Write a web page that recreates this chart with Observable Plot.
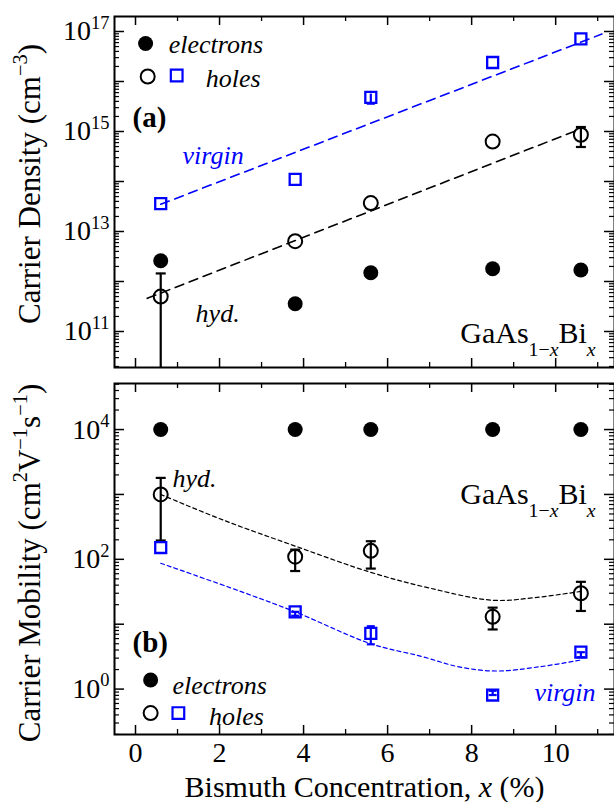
<!DOCTYPE html>
<html><head><meta charset="utf-8">
<script src="https://cdn.jsdelivr.net/npm/d3@7"></script>
<script src="https://cdn.jsdelivr.net/npm/@observablehq/plot@0.6"></script>
<style>
html,body{margin:0;padding:0;background:#fff;}
#chart{width:614px;height:802px;overflow:hidden;font-family:'Liberation Serif';}
#chart svg{display:block;overflow:visible;}
#chart svg, #chart svg text, #chart svg tspan{font-family:'Liberation Serif' !important;}
</style></head><body><div id="chart"></div>
<script>
// ---------- data ----------
const xConc = [0.6, 3.8, 5.6, 8.5, 10.6];              // Bi concentration (%)

// (a) carrier density (cm^-3)
const densElectrons = [2.6e12, 3.6e11, 1.5e12, 1.8e12, 1.7e12];
const densHolesHyd = [5.0e11, 6.4e12, 3.7e13, 6.3e14, 8.6e14];
const densHolesVirgin = [3.6e13, 1.1e14, 4.8e15, 2.4e16, 7.1e16];
const densHydErrX = [0.6, 10.6];
const densHydErrLo = [1e10, 4.9e14];
const densHydErrHi = [1.45e12, 1.23e15];
const densVirErrX = [5.6];
const densVirErrLo = [3.6e15];
const densVirErrHi = [5.6e15];
const densFitHydX = [0.28, 10.5];
const densFitHydY = [4.6e11, 1.05e15];
const densFitVirX = [0.6, 11.1];
const densFitVirY = [3.5e13, 8.9e16];

// (b) carrier mobility (cm^2 V^-1 s^-1)
const mobElectrons = [1e4, 1e4, 1e4, 1e4, 1e4];
const mobHolesHyd = [1000, 110, 135, 13, 30];
const mobHydErrLo = [195, 66, 72, 8.3, 16];
const mobHydErrHi = [1800, 141, 190, 18, 45];
const mobHolesVirgin = [152, 15.5, 7.2, 0.81, 3.7];
const mobVirErrX = [3.8, 5.6, 8.5, 10.6];
const mobVirErrLo = [13.5, 4.9, 0.81, 3.1];
const mobVirErrHi = [15.5, 9.3, 0.94, 3.7];
const mobFitHydX = [0.6, 2.1, 3.8, 5.6, 7.0, 8.5, 9.5, 10.6];
const mobFitHydY = [1000, 400, 160, 63, 36, 23.4, 25.7, 32];
const mobFitVirX = [0.6, 2.5, 3.8, 5.6, 6.8, 7.7, 8.6, 9.6, 10.6];
const mobFitVirY = [87, 32, 15.5, 5.0, 3.2, 2.2, 1.9, 2.2, 2.8];

// ticks
const xMajorTicks = [0, 2, 4, 6, 8, 10];
const xMinorTicks = [1, 3, 5, 7, 9, 11];
const densLabelTicks = [1e11, 1e13, 1e15, 1e17];
const mobLabelTicks = [1e0, 1e2, 1e4];
const densDecades = [10, 11, 12, 13, 14, 15, 16, 17];
const mobDecades = [-1, 0, 1, 2, 3, 4];

// text
const densYLabel = "Carrier Density (cm^{−3})";
const mobYLabel = "Carrier Mobility (cm^{2}V^{−1}s^{−1})";
const xLabel = "Bismuth Concentration, *x* (%)";
const alloyLabel = "GaAs_{1−*x*}Bi_{*x*}";

// ---------- helpers ----------
const BLUE = "#0000ff";
const FONT = "Liberation Serif";
const X_DOMAIN = [-0.5, 11.4];
const WIDTH = 614, ML = 114, MR = 0;
const FRAME_W = WIDTH - ML - MR;

const zip = (xs, ys) => xs.map((x, i) => ({x, y: ys[i]}));
const zip3 = (xs, lo, hi) => xs.map((x, i) => ({x, lo: lo[i], hi: hi[i]}));
const decadeTicks = (decs, domain) => {
  const major = [], minor = [];
  for (const d of decs) {
    const b = Math.pow(10, d);
    if (b >= domain[0] && b <= domain[1]) major.push(b);
    for (let k = 2; k <= 9; k++) { const v = k * b; if (v >= domain[0] && v <= domain[1]) minor.push(v); }
  }
  return {major, minor};
};
const capSymbol = {draw(ctx, size) { const h = Math.sqrt(size / Math.PI); ctx.moveTo(-h, 0); ctx.lineTo(h, 0); }};
const expFmt = d => `10^{${Math.round(Math.log10(d))}}`;

function tickMarks(frameH, yt) {
  return [
    Plot.ruleX(xMajorTicks, {x: d => d, insetTop: frameH - 9, strokeWidth: 1.5}),
    Plot.ruleX(xMajorTicks, {x: d => d, insetBottom: frameH - 9, strokeWidth: 1.5}),
    Plot.ruleX(xMinorTicks, {x: d => d, insetTop: frameH - 5, strokeWidth: 1.3}),
    Plot.ruleX(xMinorTicks, {x: d => d, insetBottom: frameH - 5, strokeWidth: 1.3}),
    Plot.ruleY(yt.major, {y: d => d, insetRight: FRAME_W - 10, strokeWidth: 1.5}),
    Plot.ruleY(yt.major, {y: d => d, insetLeft: FRAME_W - 10, strokeWidth: 1.5}),
    Plot.ruleY(yt.minor, {y: d => d, insetRight: FRAME_W - 5, strokeWidth: 1.2}),
    Plot.ruleY(yt.minor, {y: d => d, insetLeft: FRAME_W - 5, strokeWidth: 1.2})
  ];
}

function richify(root) {
  root.setAttribute("font-family", FONT);
  root.style.fontFamily = FONT;
  root.querySelectorAll("g").forEach(g => { if (g.hasAttribute("font-family")) g.setAttribute("font-family", FONT); });
  root.querySelectorAll("text").forEach(el => {
    el.setAttribute("font-family", FONT);
    el.style.fontFamily = FONT;
    const s = el.textContent;
    if (!/[\^_]\{|\*/.test(s)) return;
    const fs = parseFloat(getComputedStyle(el).fontSize) || 16;
    const small = fs * 0.66;
    while (el.firstChild) el.removeChild(el.firstChild);
    const parts = s.split(/(\^\{[^}]*\}|_\{[^}]*\})/);
    let offset = 0;
    for (const p of parts) {
      if (!p) continue;
      let body = p, target = 0, size = null;
      if (p.startsWith("^{")) { body = p.slice(2, -1); target = -fs * 0.42; size = small; }
      else if (p.startsWith("_{")) { body = p.slice(2, -1); target = fs * 0.42; size = small; }
      let first = true;
      for (const sg of body.split(/(\*[^*]*\*)/)) {
        if (!sg) continue;
        const t = document.createElementNS("http://www.w3.org/2000/svg", "tspan");
        const italic = sg.length > 1 && sg.startsWith("*") && sg.endsWith("*");
        t.textContent = italic ? sg.slice(1, -1) : sg;
        if (italic) t.setAttribute("font-style", "italic");
        if (size) t.setAttribute("font-size", size);
        if (first) { const d = target - offset; if (d) t.setAttribute("dy", d); offset = target; first = false; }
        el.appendChild(t);
      }
    }
  });
}

// ---------- panel (a) ----------
const densDomain = [Math.pow(10, 10.28), Math.pow(10, 17.3)];
const densTicks = decadeTicks(densDecades, densDomain);
const topH = 375, topMT = 16, topMB = 8;
const topFrameH = topH - topMT - topMB;

const plotA = Plot.plot({
  width: WIDTH, height: topH, marginLeft: ML, marginRight: MR, marginTop: topMT, marginBottom: topMB,
  style: {fontFamily: FONT, background: "white", color: "black"},
  x: {domain: X_DOMAIN, axis: null},
  y: {type: "log", domain: densDomain},
  marks: [
    ...tickMarks(topFrameH, densTicks),
    Plot.axisY(densLabelTicks, {tickSize: 0, tickPadding: 5, tickFormat: expFmt, fontSize: 28, label: null}),
    Plot.line(zip(densFitVirX, densFitVirY), {x: "x", y: "y", stroke: BLUE, strokeWidth: 1.6, strokeDasharray: "9,6"}),
    Plot.line(zip(densFitHydX, densFitHydY), {x: "x", y: "y", stroke: "black", strokeWidth: 1.6, strokeDasharray: "9,6"}),
    Plot.ruleX(zip3(densHydErrX, densHydErrLo, densHydErrHi), {x: "x", y1: "lo", y2: "hi", stroke: "black", strokeWidth: 2.2, clip: true}),
    Plot.dot(zip3(densHydErrX, densHydErrLo, densHydErrHi), {x: "x", y: "hi", symbol: capSymbol, r: 5, stroke: "black", strokeWidth: 2.2, clip: true}),
    Plot.dot(zip3(densHydErrX, densHydErrLo, densHydErrHi), {x: "x", y: "lo", symbol: capSymbol, r: 5, stroke: "black", strokeWidth: 2.2, clip: true}),
    Plot.ruleX(zip3(densVirErrX, densVirErrLo, densVirErrHi), {x: "x", y1: "lo", y2: "hi", stroke: BLUE, strokeWidth: 2.2}),
    Plot.dot(zip3(densVirErrX, densVirErrLo, densVirErrHi), {x: "x", y: "lo", symbol: capSymbol, r: 4, stroke: BLUE, strokeWidth: 2.2}),
    Plot.dot(zip(xConc, densElectrons), {x: "x", y: "y", r: 7.5, fill: "black"}),
    Plot.dot(zip(xConc, densHolesHyd), {x: "x", y: "y", r: 7, stroke: "black", strokeWidth: 2, fill: "none"}),
    Plot.dot(zip(xConc, densHolesVirgin), {x: "x", y: "y", symbol: "square", r: 6.2, stroke: BLUE, strokeWidth: 2.3, fill: "none"}),
    // legend & annotations
    Plot.dot([{x: 0.24, y: Math.pow(10, 16.76)}], {x: "x", y: "y", r: 7.5, fill: "black"}),
    Plot.dot([{x: 0.29, y: Math.pow(10, 16.1)}], {x: "x", y: "y", r: 7, stroke: "black", strokeWidth: 2, fill: "none"}),
    Plot.dot([{x: 0.98, y: Math.pow(10, 16.12)}], {x: "x", y: "y", symbol: "square", r: 6.6, stroke: BLUE, strokeWidth: 2.2, fill: "none"}),
    Plot.text([{x: 0.79, y: Math.pow(10, 16.74), t: "electrons"}], {x: "x", y: "y", text: "t", textAnchor: "start", fontSize: 26, fontStyle: "italic"}),
    Plot.text([{x: 1.67, y: Math.pow(10, 16.06), t: "holes"}], {x: "x", y: "y", text: "t", textAnchor: "start", fontSize: 26, fontStyle: "italic"}),
    Plot.text([{x: -0.07, y: Math.pow(10, 15.28), t: "(a)"}], {x: "x", y: "y", text: "t", textAnchor: "start", fontSize: 29, fontWeight: "bold"}),
    Plot.text([{x: 1.12, y: Math.pow(10, 14.52), t: "virgin"}], {x: "x", y: "y", text: "t", textAnchor: "start", fontSize: 26, fontStyle: "italic", fill: BLUE}),
    Plot.text([{x: 1.43, y: Math.pow(10, 11.36), t: "hyd."}], {x: "x", y: "y", text: "t", textAnchor: "start", fontSize: 26, fontStyle: "italic"}),
    Plot.text([{x: 10.95, y: Math.pow(10, 10.96), t: alloyLabel}], {x: "x", y: "y", text: "t", textAnchor: "end", fontSize: 30}),
    Plot.text([densYLabel], {frameAnchor: "left", textAnchor: "middle", lineAnchor: "middle", dx: -84, dy: -8, rotate: -90, fontSize: 31}),
    Plot.frame({stroke: "black", strokeWidth: 2})
  ]
});

// ---------- panel (b) ----------
const mobDomain = [Math.pow(10, -0.7), Math.pow(10, 4.71)];
const mobTicks = decadeTicks(mobDecades, mobDomain);
const botH = 427, botMT = 8, botMB = 68;
const botFrameH = botH - botMT - botMB;

const plotB = Plot.plot({
  width: WIDTH, height: botH, marginLeft: ML, marginRight: MR, marginTop: botMT, marginBottom: botMB,
  style: {fontFamily: FONT, background: "white", color: "black"},
  x: {domain: X_DOMAIN},
  y: {type: "log", domain: mobDomain},
  marks: [
    ...tickMarks(botFrameH, mobTicks),
    Plot.axisY(mobLabelTicks, {tickSize: 0, tickPadding: 5, tickFormat: expFmt, fontSize: 28, label: null}),
    Plot.axisX(xMajorTicks, {tickSize: 0, tickPadding: 8, tickFormat: d => String(d), fontSize: 28, label: null}),
    Plot.line(zip(mobFitHydX, mobFitHydY), {x: "x", y: "y", stroke: "black", strokeWidth: 1.2, strokeDasharray: "4,3", curve: "catmull-rom"}),
    Plot.line(zip(mobFitVirX, mobFitVirY), {x: "x", y: "y", stroke: BLUE, strokeWidth: 1.2, strokeDasharray: "4,3", curve: "catmull-rom"}),
    Plot.ruleX(zip3(xConc, mobHydErrLo, mobHydErrHi), {x: "x", y1: "lo", y2: "hi", stroke: "black", strokeWidth: 2.2}),
    Plot.dot(zip3(xConc, mobHydErrLo, mobHydErrHi), {x: "x", y: "hi", symbol: capSymbol, r: 5, stroke: "black", strokeWidth: 2.2}),
    Plot.dot(zip3(xConc, mobHydErrLo, mobHydErrHi), {x: "x", y: "lo", symbol: capSymbol, r: 5, stroke: "black", strokeWidth: 2.2}),
    Plot.ruleX(zip3(mobVirErrX, mobVirErrLo, mobVirErrHi), {x: "x", y1: "lo", y2: "hi", stroke: BLUE, strokeWidth: 2.2}),
    Plot.dot(zip3(mobVirErrX, mobVirErrLo, mobVirErrHi), {x: "x", y: "hi", symbol: capSymbol, r: 4, stroke: BLUE, strokeWidth: 2.2}),
    Plot.dot(zip3(mobVirErrX, mobVirErrLo, mobVirErrHi), {x: "x", y: "lo", symbol: capSymbol, r: 4, stroke: BLUE, strokeWidth: 2.2}),
    Plot.dot(zip(xConc, mobElectrons), {x: "x", y: "y", r: 7.5, fill: "black"}),
    Plot.dot(zip(xConc, mobHolesHyd), {x: "x", y: "y", r: 7, stroke: "black", strokeWidth: 2, fill: "none"}),
    Plot.dot(zip(xConc, mobHolesVirgin), {x: "x", y: "y", symbol: "square", r: 6.2, stroke: BLUE, strokeWidth: 2.3, fill: "none"}),
    // legend & annotations
    Plot.dot([{x: 0.36, y: Math.pow(10, 0.14)}], {x: "x", y: "y", r: 7.5, fill: "black"}),
    Plot.dot([{x: 0.36, y: Math.pow(10, -0.37)}], {x: "x", y: "y", r: 7, stroke: "black", strokeWidth: 2, fill: "none"}),
    Plot.dot([{x: 1.02, y: Math.pow(10, -0.37)}], {x: "x", y: "y", symbol: "square", r: 6.6, stroke: BLUE, strokeWidth: 2.2, fill: "none"}),
    Plot.text([{x: 0.88, y: Math.pow(10, 0.06), t: "electrons"}], {x: "x", y: "y", text: "t", textAnchor: "start", fontSize: 26, fontStyle: "italic"}),
    Plot.text([{x: 1.75, y: Math.pow(10, -0.42), t: "holes"}], {x: "x", y: "y", text: "t", textAnchor: "start", fontSize: 26, fontStyle: "italic"}),
    Plot.text([{x: -0.07, y: Math.pow(10, 0.71), t: "(b)"}], {x: "x", y: "y", text: "t", textAnchor: "start", fontSize: 29, fontWeight: "bold"}),
    Plot.text([{x: 10.95, y: Math.pow(10, -0.06), t: "virgin"}], {x: "x", y: "y", text: "t", textAnchor: "end", fontSize: 26, fontStyle: "italic", fill: BLUE}),
    Plot.text([{x: 0.88, y: Math.pow(10, 3.25), t: "hyd."}], {x: "x", y: "y", text: "t", textAnchor: "start", fontSize: 26, fontStyle: "italic"}),
    Plot.text([{x: 10.95, y: Math.pow(10, 3.0), t: alloyLabel}], {x: "x", y: "y", text: "t", textAnchor: "end", fontSize: 30}),
    Plot.text([mobYLabel], {frameAnchor: "left", textAnchor: "middle", lineAnchor: "middle", dx: -84, dy: 4, rotate: -90, fontSize: 31}),
    Plot.text([xLabel], {frameAnchor: "bottom", textAnchor: "middle", lineAnchor: "middle", dy: 53, fontSize: 30}),
    Plot.frame({stroke: "black", strokeWidth: 2})
  ]
});

const chart = document.getElementById("chart");
chart.appendChild(plotA);
chart.appendChild(plotB);
richify(plotA);
richify(plotB);
</script>
</body></html>
